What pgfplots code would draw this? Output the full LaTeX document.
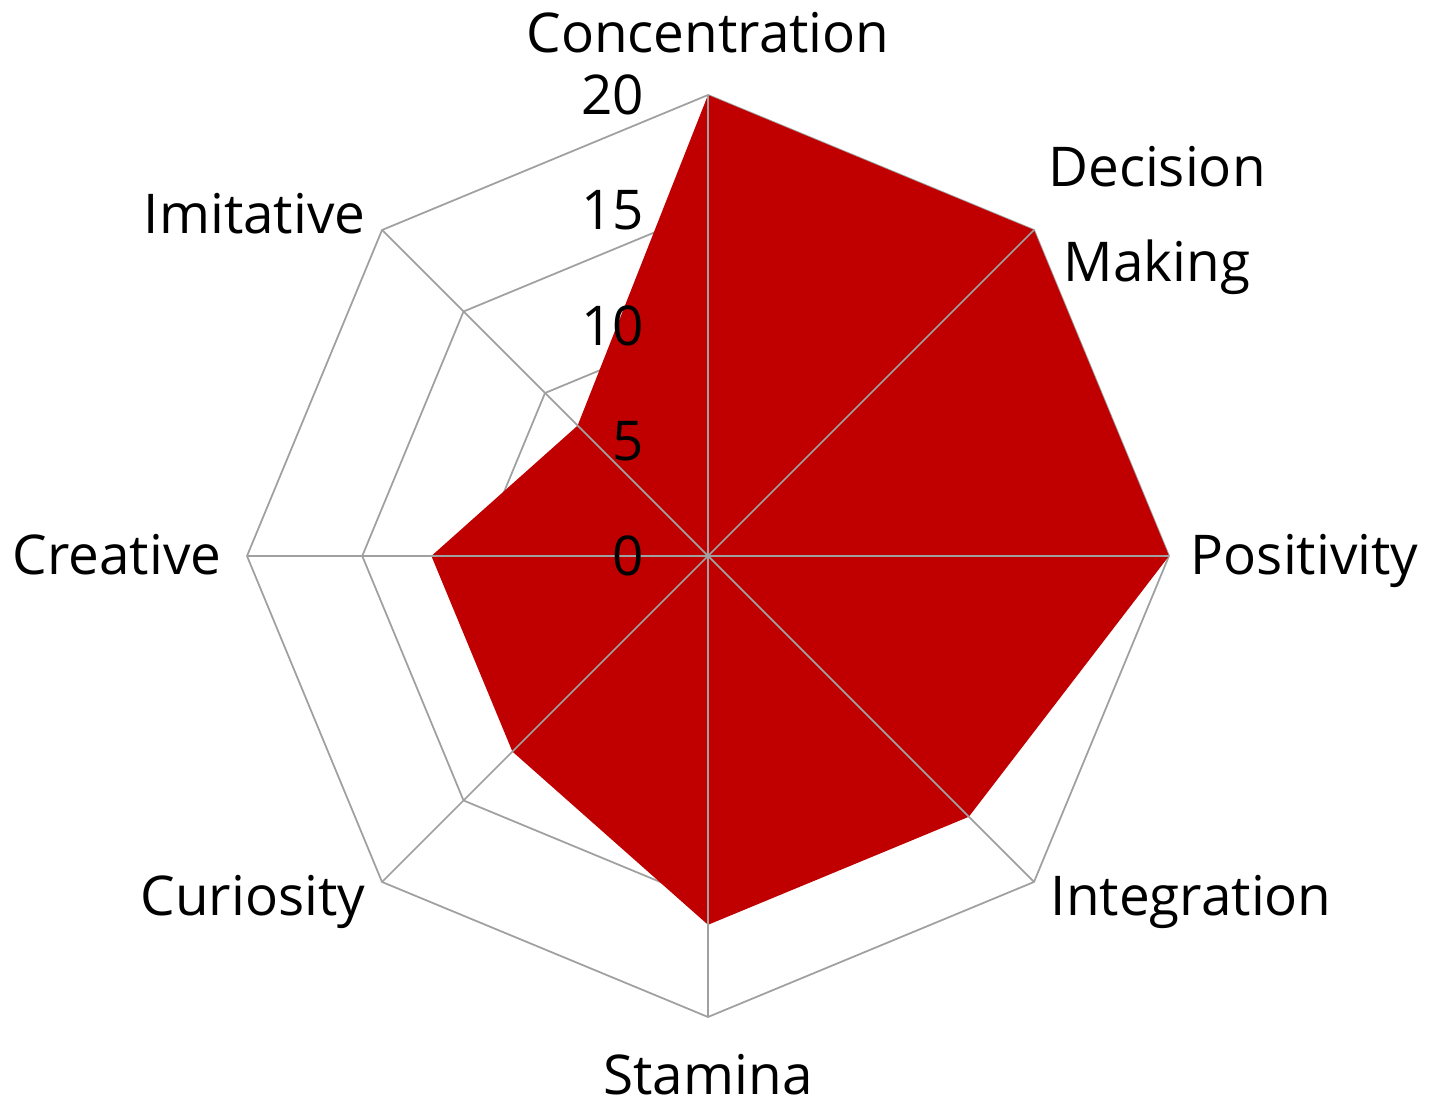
\documentclass[border=0pt]{standalone}
\usepackage{fontspec}
\setmainfont{Open Sans}
\usepackage{pgfplots}
\pgfplotsset{compat=1.18}
\usepgfplotslibrary{polar}
\usetikzlibrary{calc}
\definecolor{radarred}{RGB}{192,0,0}
\definecolor{gridgray}{RGB}{160,160,160}

\begin{document}
\begin{tikzpicture}[font=\fontsize{15.6}{19}\selectfont]
\begin{polaraxis}[
    hide axis, scale only axis,
    width=9.22cm, height=9.22cm,
    ymin=0, ymax=20, clip=false,
]
% octagon rings
\addplot[gridgray, line width=0.5pt, line join=round] coordinates {(0,5)(45,5)(90,5)(135,5)(180,5)(225,5)(270,5)(315,5)(360,5)};
\addplot[gridgray, line width=0.5pt, line join=round] coordinates {(0,10)(45,10)(90,10)(135,10)(180,10)(225,10)(270,10)(315,10)(360,10)};
\addplot[gridgray, line width=0.5pt, line join=round] coordinates {(0,15)(45,15)(90,15)(135,15)(180,15)(225,15)(270,15)(315,15)(360,15)};
\addplot[gridgray, line width=0.5pt, line join=round] coordinates {(0,20)(45,20)(90,20)(135,20)(180,20)(225,20)(270,20)(315,20)(360,20)};
% data
\addplot[fill=radarred, draw=none] coordinates {
    (90,20) (45,20) (0,20) (315,16) (270,16) (225,12) (180,12) (135,8) (90,20)
};
% spokes
\foreach \a in {0,45,...,315} {
    \edef\temp{\noexpand\addplot[gridgray, line width=0.5pt] coordinates {(\a,0) (\a,20)};}
    \temp
}
\coordinate (c) at (axis cs:0,0);
\end{polaraxis}

% tick labels
\foreach \v in {0,5,10,15,20} {
    \node[anchor=east, inner sep=0pt] at ($(c)+(-0.63,{\v*0.2305})$) {\v};
}
% category labels
\node[anchor=base, inner sep=0pt] at ($(c)+(0,5.03)$) {Concentration};
\node[anchor=base, inner sep=0pt] at ($(c)+(4.49,3.69)$) {Decision};
\node[anchor=base, inner sep=0pt] at ($(c)+(4.49,2.74)$) {Making};
\node[anchor=base west, inner sep=0pt] at ($(c)+(4.82,-0.19)$) {Positivity};
\node[anchor=base west, inner sep=0pt] at ($(c)+(3.42,-3.60)$) {Integration};
\node[anchor=base, inner sep=0pt] at ($(c)+(0,-5.38)$) {Stamina};
\node[anchor=base east, inner sep=0pt] at ($(c)+(-3.42,-3.60)$) {Curiosity};
\node[anchor=base east, inner sep=0pt] at ($(c)+(-4.86,-0.19)$) {Creative};
\node[anchor=base east, inner sep=0pt] at ($(c)+(-3.42,3.22)$) {Imitative};

\pgfresetboundingbox
\path[use as bounding box] ($(c)+(-7.08,-5.50)$) rectangle ($(c)+(7.45,5.56)$);
\end{tikzpicture}
\end{document}
